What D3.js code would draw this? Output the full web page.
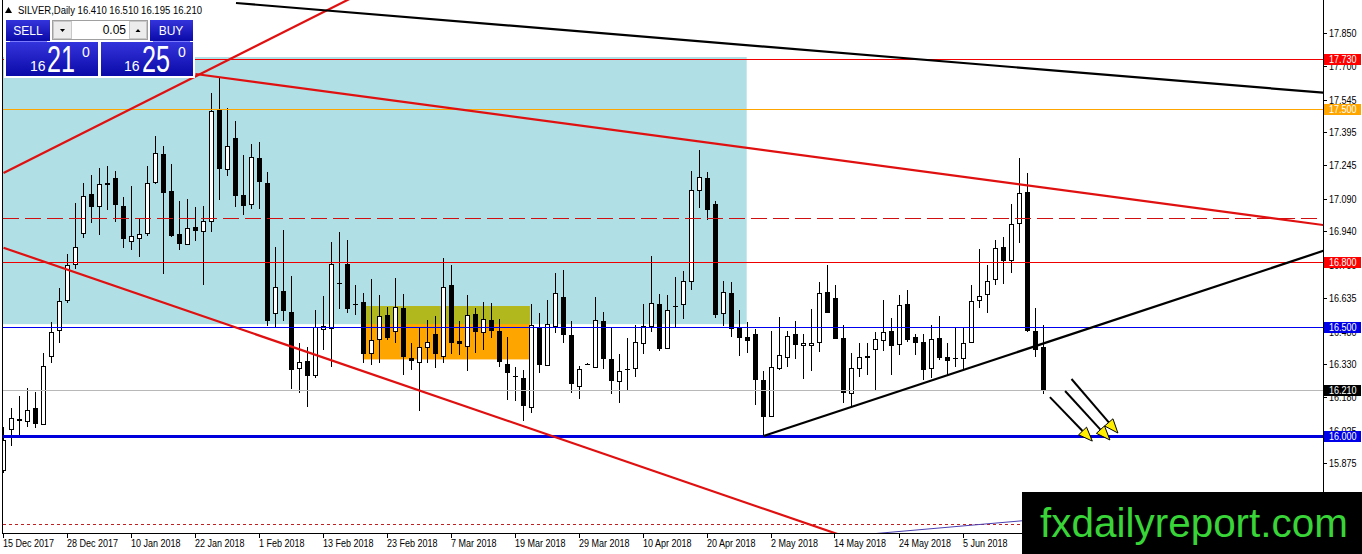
<!DOCTYPE html>
<html>
<head>
<meta charset="utf-8">
<script src="https://cdn.jsdelivr.net/npm/d3@7"></script>
<style>
  body { margin: 0; background: #ffffff; overflow: hidden; }
  text { font-family: "Liberation Sans", Arial, sans-serif; }
</style>
</head>
<body>
<script>
// SILVER daily candles, oldest first
const opens = [15.84,16.032,16.077,16.070,16.127,16.058,16.371,16.487,16.625,16.790,
  16.936,17.110,17.055,17.161,17.184,17.057,16.897,16.908,16.931,17.168,
  17.296,17.126,16.928,16.881,16.960,16.939,16.989,17.501,17.228,17.368,
  17.107,17.064,17.276,17.161,16.564,16.666,16.568,16.311,16.345,16.280,
  16.490,16.498,16.705,16.790,16.607,16.617,16.383,16.444,16.556,16.482,
  16.587,16.357,16.337,16.410,16.469,16.364,16.694,16.436,16.415,16.560,
  16.476,16.533,16.484,16.331,16.274,16.268,16.135,16.502,16.323,16.502,
  16.637,16.464,16.230,16.331,16.315,16.530,16.352,16.254,16.308,16.315,
  16.430,16.502,16.606,16.406,16.599,16.606,16.714,17.126,17.184,17.066,
  16.564,16.655,16.495,16.453,16.469,16.257,16.089,16.309,16.364,16.467,
  16.420,16.415,16.429,16.663,16.632,16.452,16.196,16.315,16.368,16.398,
  16.438,16.482,16.421,16.605,16.453,16.430,16.311,16.449,16.361,16.357,
  16.357,16.429,16.625,16.651,16.720,16.867,16.805,16.977,17.119,16.484,
  16.410];
const highs = [16.04,16.129,16.184,16.219,16.201,16.380,16.522,16.678,16.836,17.069,
  17.161,17.199,17.230,17.240,17.219,17.096,17.149,17.000,17.240,17.378,
  17.332,17.250,17.081,17.089,17.054,17.057,17.574,17.650,17.505,17.446,
  17.291,17.341,17.349,17.211,16.870,16.946,16.735,16.426,16.410,16.579,
  16.643,16.890,16.936,16.900,16.694,16.655,16.721,16.648,16.594,16.724,
  16.652,16.426,16.502,16.533,16.551,16.816,16.786,16.530,16.648,16.587,
  16.617,16.610,16.536,16.453,16.315,16.303,16.606,16.564,16.625,16.750,
  16.763,16.530,16.322,16.334,16.637,16.568,16.495,16.377,16.449,16.510,
  16.606,16.827,16.652,16.648,16.729,16.758,17.219,17.314,17.214,17.081,
  16.712,16.709,16.579,16.522,16.490,16.300,16.484,16.548,16.484,16.530,
  16.469,16.582,16.709,16.786,16.694,16.510,16.380,16.426,16.426,16.479,
  16.625,16.541,16.648,16.671,16.469,16.467,16.510,16.551,16.426,16.499,
  16.495,16.694,16.858,16.786,16.900,16.913,17.064,17.279,17.207,16.587,
  16.510];
const lows = [15.83,15.954,16.000,16.043,16.035,16.054,16.337,16.429,16.609,16.769,
  16.908,16.980,16.923,17.038,16.985,16.865,16.855,16.824,16.919,17.158,
  16.744,16.916,16.855,16.881,16.897,16.694,16.939,17.084,17.194,17.054,
  17.015,17.043,17.043,16.505,16.502,16.530,16.214,16.196,16.135,16.268,
  16.395,16.319,16.585,16.564,16.556,16.337,16.326,16.337,16.441,16.426,
  16.280,16.303,16.116,16.334,16.311,16.337,16.377,16.372,16.300,16.380,
  16.395,16.452,16.319,16.165,16.162,16.070,16.107,16.291,16.323,16.475,
  16.426,16.199,16.168,16.326,16.315,16.306,16.193,16.150,16.208,16.270,
  16.377,16.479,16.392,16.398,16.499,16.536,16.671,17.046,16.992,16.541,
  16.505,16.453,16.368,16.383,16.142,16.000,16.086,16.303,16.315,16.352,
  16.262,16.300,16.387,16.567,16.444,16.150,16.138,16.273,16.280,16.211,
  16.392,16.280,16.372,16.433,16.372,16.257,16.265,16.349,16.280,16.315,
  16.303,16.426,16.590,16.567,16.694,16.698,16.747,16.886,16.479,16.364,
  16.195];
const closes = [15.98,16.083,16.066,16.119,16.054,16.323,16.479,16.619,16.784,16.867,
  17.104,17.051,17.156,17.152,17.058,16.904,16.919,16.928,17.161,17.299,
  17.118,16.920,16.882,16.954,16.943,16.986,17.495,17.225,17.332,17.100,
  17.058,17.280,17.164,16.525,16.683,16.576,16.303,16.338,16.277,16.499,
  16.504,16.790,16.700,16.585,16.604,16.377,16.441,16.551,16.449,16.591,
  16.361,16.341,16.407,16.433,16.377,16.683,16.429,16.424,16.556,16.479,
  16.536,16.484,16.341,16.291,16.271,16.139,16.510,16.326,16.513,16.655,
  16.464,16.237,16.306,16.328,16.533,16.357,16.250,16.300,16.305,16.433,
  16.507,16.609,16.398,16.579,16.596,16.711,17.130,17.188,17.035,16.556,
  16.660,16.490,16.449,16.433,16.260,16.086,16.315,16.371,16.461,16.415,
  16.429,16.426,16.655,16.567,16.444,16.199,16.311,16.364,16.360,16.444,
  16.476,16.415,16.600,16.438,16.426,16.303,16.444,16.357,16.341,16.355,
  16.426,16.619,16.645,16.711,16.862,16.801,16.972,17.115,16.479,16.398,
  16.210];

// time axis labels, one every 8 bars
const dateLabels = ["15 Dec 2017","28 Dec 2017","10 Jan 2018","22 Jan 2018","1 Feb 2018",
  "13 Feb 2018","23 Feb 2018","7 Mar 2018","19 Mar 2018","29 Mar 2018","10 Apr 2018",
  "20 Apr 2018","2 May 2018","14 May 2018","24 May 2018","5 Jun 2018"];
const labelStep = 8;

// price axis ticks
const priceTicks = [17.850,17.700,17.545,17.395,17.245,17.090,16.940,16.785,16.635,
  16.480,16.330,16.180,16.025,15.875,15.720];

// horizontal levels with a price tag on the axis
const tagLevels = [17.730, 17.500, 16.800, 16.500, 16.210, 16.000];
const dashedLevel = 17.0;
const dottedLevel = 15.596;

// zones: [bar from, bar to, price top, price bottom]
const blueZone = [-5, 92.9, 17.741, 16.514];
const orangeZone = [44.9, 65.8, 16.597, 16.352];

// trend lines: [bar1, price1, bar2, price2]
const redLines = [
  [0, 17.208, 23.1, 17.635],
  [24, 17.663, 165, 16.969],
  [0, 16.865, 65.8, 16.035]
];
const blackLines = [
  [29.06, 17.989, 165, 17.577],
  [95, 16.000, 165, 16.851]
];
const blueLine = [108.3, 15.550, 128.3, 15.614];

// arrows: [bar1, price1, bar2, price2]
const arrows = [
  [130.8, 16.179, 136.1, 15.977],
  [132.7, 16.207, 138.3, 15.982],
  [133.5, 16.262, 139.3, 16.014]
];

const W = 1362, H = 554;
const plot = { left: 3, right: 1323, top: 0, bottom: 533 };

const svg = d3.select("body").append("svg")
  .attr("width", W)
  .attr("height", H);

const x = d3.scaleLinear().domain([0, 165]).range([3.5, 1323.5]);
const y = d3.scaleLinear().domain([15.552, 18.0]).range([533.6, 0.6]);

svg.append("defs").append("clipPath").attr("id", "plotclip")
  .append("rect")
  .attr("x", plot.left).attr("y", plot.top)
  .attr("width", plot.right - plot.left).attr("height", plot.bottom - plot.top);

const g = svg.append("g").attr("clip-path", "url(#plotclip)");

// zones
g.append("rect")
  .attr("x", x(blueZone[0])).attr("y", y(blueZone[2]))
  .attr("width", x(blueZone[1]) - x(blueZone[0]))
  .attr("height", y(blueZone[3]) - y(blueZone[2]))
  .attr("fill", "#b0dfe5");
g.append("rect")
  .attr("x", x(orangeZone[0])).attr("y", y(orangeZone[2]))
  .attr("width", x(orangeZone[1]) - x(orangeZone[0]))
  .attr("height", y(orangeZone[3]) - y(orangeZone[2]))
  .attr("fill", "#ffa500");
// overlap of the two zones shows olive
g.append("rect")
  .attr("x", x(orangeZone[0])).attr("y", y(orangeZone[2]))
  .attr("width", x(orangeZone[1]) - x(orangeZone[0]))
  .attr("height", y(blueZone[3]) - y(orangeZone[2]))
  .attr("fill", "#b1b81e");

// candles
const bars = d3.range(opens.length);
const candles = g.append("g").attr("shape-rendering", "crispEdges");
candles.selectAll("line.wick").data(bars).enter().append("line")
  .attr("class", "wick")
  .attr("x1", i => x(i)).attr("x2", i => x(i))
  .attr("y1", i => y(highs[i])).attr("y2", i => y(lows[i]))
  .attr("stroke", "#000").attr("stroke-width", 1);
candles.selectAll("rect.body").data(bars).enter().append("rect")
  .attr("class", "body")
  .attr("x", i => closes[i] >= opens[i] ? x(i) - 2 : x(i) - 2.5)
  .attr("width", i => closes[i] >= opens[i] ? 4 : 5)
  .attr("y", i => Math.round(y(Math.max(opens[i], closes[i]))) + (closes[i] >= opens[i] ? 0.5 : 0))
  .attr("height", i => Math.max(1, Math.round(Math.abs(y(opens[i]) - y(closes[i])))))
  .attr("fill", i => closes[i] >= opens[i] ? "#ffffff" : "#000000")
  .attr("stroke", i => closes[i] >= opens[i] ? "#000000" : "none")
  .attr("stroke-width", 1);

// horizontal levels, as filled strips
const tagColor = { "17.73": "#ff0000", "17.5": "#ffa500", "16.8": "#ff0000",
  "16.5": "#0000e8", "16.21": "#000000", "16": "#0000e8" };
const lineColor = { "17.73": "#f00000", "17.5": "#ffa500", "16.8": "#ee0000",
  "16.5": "#0000f0", "16.21": "#b8b8b8", "16": "#0000dd" };
const hl = g.append("g");
hl.selectAll("rect.level").data(tagLevels).enter().append("rect")
  .attr("class", "level")
  .attr("x", plot.left).attr("width", plot.right - plot.left)
  .attr("y", p => p === 16 ? Math.round(y(p)) - 1 : Math.round(y(p)))
  .attr("height", p => p === 16 ? 3 : 1)
  .attr("fill", p => lineColor[String(p)]);
hl.append("line")
  .attr("x1", plot.left).attr("x2", plot.right)
  .attr("y1", Math.round(y(dashedLevel)) + 0.5).attr("y2", Math.round(y(dashedLevel)) + 0.5)
  .attr("stroke", "#d01010").attr("stroke-dasharray", "16,6");
hl.append("line")
  .attr("x1", plot.left).attr("x2", plot.right)
  .attr("y1", Math.round(y(dottedLevel)) + 0.5).attr("y2", Math.round(y(dottedLevel)) + 0.5)
  .attr("stroke", "#c02020").attr("stroke-dasharray", "3,3");

// trend lines, extended to the right edge
function ray(l) {
  const slope = (l[3] - l[1]) / (l[2] - l[0]);
  const end = 170;
  return [x(l[0]), y(l[1]), x(end), y(l[1] + slope * (end - l[0]))];
}
redLines.forEach((l, k) => {
  const r = k === 1 ? [x(l[0]), y(l[1]), x(l[2]), y(l[3])] : ray(l);
  g.append("line")
    .attr("x1", r[0]).attr("y1", r[1]).attr("x2", r[2]).attr("y2", r[3])
    .attr("stroke", "#e01010").attr("stroke-width", 2.2);
});
blackLines.forEach(l => {
  const r = ray(l);
  g.append("line")
    .attr("x1", r[0]).attr("y1", r[1]).attr("x2", r[2]).attr("y2", r[3])
    .attr("stroke", "#000").attr("stroke-width", 2.2);
});
const bl = ray(blueLine);
g.append("line")
  .attr("x1", bl[0]).attr("y1", bl[1]).attr("x2", bl[2]).attr("y2", bl[3])
  .attr("stroke", "#4a3fb0").attr("stroke-width", 1);

// arrows
arrows.forEach(a => {
  const x1 = x(a[0]), y1 = y(a[1]), x2 = x(a[2]), y2 = y(a[3]);
  const ang = Math.atan2(y2 - y1, x2 - x1);
  const len = 14, half = 5.5;
  const bx = x2 - len * Math.cos(ang), by = y2 - len * Math.sin(ang);
  g.append("line")
    .attr("x1", x1).attr("y1", y1).attr("x2", bx).attr("y2", by)
    .attr("stroke", "#000").attr("stroke-width", 2);
  const pts = [
    [x2, y2],
    [bx + half * Math.sin(ang), by - half * Math.cos(ang)],
    [bx - half * Math.sin(ang), by + half * Math.cos(ang)]
  ];
  g.append("path")
    .attr("d", "M" + pts.map(p => p.join(",")).join("L") + "Z")
    .attr("fill", "#ffee00").attr("stroke", "#000").attr("stroke-width", 1);
});

// frame
svg.append("line")
  .attr("x1", 2.5).attr("x2", 2.5).attr("y1", 0).attr("y2", 534)
  .attr("stroke", "#000");
svg.append("line")
  .attr("x1", 2.5).attr("x2", 1323.5).attr("y1", 533.5).attr("y2", 533.5)
  .attr("stroke", "#000");
svg.append("line")
  .attr("x1", 1323.5).attr("x2", 1323.5).attr("y1", 0).attr("y2", 534)
  .attr("stroke", "#000");

// price axis
const ya = svg.append("g").attr("shape-rendering", "crispEdges");
priceTicks.forEach(t => {
  const py = Math.round(y(t)) + 0.5;
  ya.append("line")
    .attr("x1", 1323).attr("x2", 1327).attr("y1", py).attr("y2", py)
    .attr("stroke", "#000");
  const tx = ya.append("text")
    .attr("x", 1329).attr("y", py + 3.8)
    .attr("font-size", 10).attr("fill", "#000")
    .text(t.toFixed(3));
  tx.attr("textLength", tx.node().getComputedTextLength() * 0.9)
    .attr("lengthAdjust", "spacingAndGlyphs");
});
// price tags
tagLevels.forEach(p => {
  const py = y(p);
  ya.append("rect")
    .attr("x", 1324).attr("y", Math.round(py) - 5)
    .attr("width", 37).attr("height", 11)
    .attr("fill", tagColor[String(p)]);
  const tx = ya.append("text")
    .attr("x", 1329).attr("y", Math.round(py) + 4.3)
    .attr("font-size", 10).attr("fill", "#fff")
    .text(p.toFixed(3));
  tx.attr("textLength", tx.node().getComputedTextLength() * 0.9)
    .attr("lengthAdjust", "spacingAndGlyphs");
});

// time axis
dateLabels.forEach((d, k) => {
  const tx0 = Math.round(x(k * labelStep)) - 0.5;
  svg.append("line")
    .attr("x1", tx0).attr("x2", tx0).attr("y1", 533).attr("y2", 538)
    .attr("stroke", "#000").attr("shape-rendering", "crispEdges");
  const tx = svg.append("text")
    .attr("x", tx0 - 0.5).attr("y", 546.5)
    .attr("font-size", 10).attr("fill", "#000")
    .text(d);
  tx.attr("textLength", tx.node().getComputedTextLength() * 0.9)
    .attr("lengthAdjust", "spacingAndGlyphs");
});

// header line
svg.append("path").attr("d", "M5,13 L8.5,7 L12,13 Z").attr("fill", "#000");
svg.append("text")
  .attr("x", 18).attr("y", 14)
  .attr("font-size", 10).attr("fill", "#000")
  .attr("textLength", 184).attr("lengthAdjust", "spacingAndGlyphs")
  .text("SILVER,Daily  " + [opens[130], highs[130], lows[130], closes[130]].map(v => v.toFixed(3)).join(" "));

// one-click trading panel
const defs = svg.select("defs");
const grad = defs.append("linearGradient").attr("id", "btn").attr("x1", 0).attr("y1", 0).attr("x2", 0).attr("y2", 1);
grad.append("stop").attr("offset", "0%").attr("stop-color", "#3434dc");
grad.append("stop").attr("offset", "100%").attr("stop-color", "#0a0aa8");

const panel = svg.append("g");
panel.append("rect").attr("x", 4).attr("y", 19).attr("width", 191).attr("height", 59).attr("fill", "#ffffff");
panel.append("rect").attr("x", 6).attr("y", 20).attr("width", 44).attr("height", 21).attr("fill", "url(#btn)");
panel.append("rect").attr("x", 150).attr("y", 20).attr("width", 43).attr("height", 21).attr("fill", "url(#btn)");
panel.append("text").attr("x", 28).attr("y", 35).attr("text-anchor", "middle")
  .attr("font-size", 12).attr("fill", "#fff").text("SELL");
panel.append("text").attr("x", 171).attr("y", 35).attr("text-anchor", "middle")
  .attr("font-size", 12).attr("fill", "#fff").text("BUY");
panel.append("line").attr("x1", 10).attr("x2", 47).attr("y1", 41.5).attr("y2", 41.5).attr("stroke", "#7a7aff");
panel.append("line").attr("x1", 153).attr("x2", 190).attr("y1", 41.5).attr("y2", 41.5).attr("stroke", "#7a7aff");
// lot box
panel.append("rect").attr("x", 52.5).attr("y", 20.5).attr("width", 95).attr("height", 19)
  .attr("fill", "#fff").attr("stroke", "#a0a0a0");
panel.append("rect").attr("x", 53.5).attr("y", 21.5).attr("width", 18).attr("height", 17)
  .attr("fill", "#ececec").attr("stroke", "#c8c8c8");
panel.append("rect").attr("x", 129.5).attr("y", 21.5).attr("width", 17).attr("height", 17)
  .attr("fill", "#ececec").attr("stroke", "#c8c8c8");
panel.append("path").attr("d", "M60,29 L65,29 L62.5,32 Z").attr("fill", "#000");
panel.append("path").attr("d", "M135.5,32 L140.5,32 L138,29 Z").attr("fill", "#000");
panel.append("text").attr("x", 126).attr("y", 34).attr("text-anchor", "end")
  .attr("font-size", 12).attr("fill", "#000").text("0.05");
// price boxes
panel.append("rect").attr("x", 6).attr("y", 42).attr("width", 92).attr("height", 34).attr("fill", "url(#btn)");
panel.append("rect").attr("x", 101).attr("y", 42).attr("width", 92).attr("height", 34).attr("fill", "url(#btn)");
const quotes = [["16", "21", "0", 30, 47, 82], ["16", "25", "0", 124, 142, 178]];
quotes.forEach(q => {
  panel.append("text").attr("x", q[3]).attr("y", 71).attr("font-size", 14).attr("fill", "#fff").text(q[0]);
  panel.append("text").attr("x", q[4]).attr("y", 72).attr("font-size", 37).attr("fill", "#fff")
    .attr("textLength", 28).attr("lengthAdjust", "spacingAndGlyphs").text(q[1]);
  panel.append("text").attr("x", q[5]).attr("y", 57).attr("font-size", 14).attr("fill", "#fff").text(q[2]);
});

// watermark
svg.append("rect").attr("x", 1022).attr("y", 492).attr("width", 340).attr("height", 62).attr("fill", "#000");
svg.append("text").attr("x", 1040).attr("y", 537)
  .attr("font-size", 41).attr("fill", "#38d438")
  .attr("textLength", 308).attr("lengthAdjust", "spacingAndGlyphs")
  .text("fxdailyreport.com");
</script>
</body>
</html>
